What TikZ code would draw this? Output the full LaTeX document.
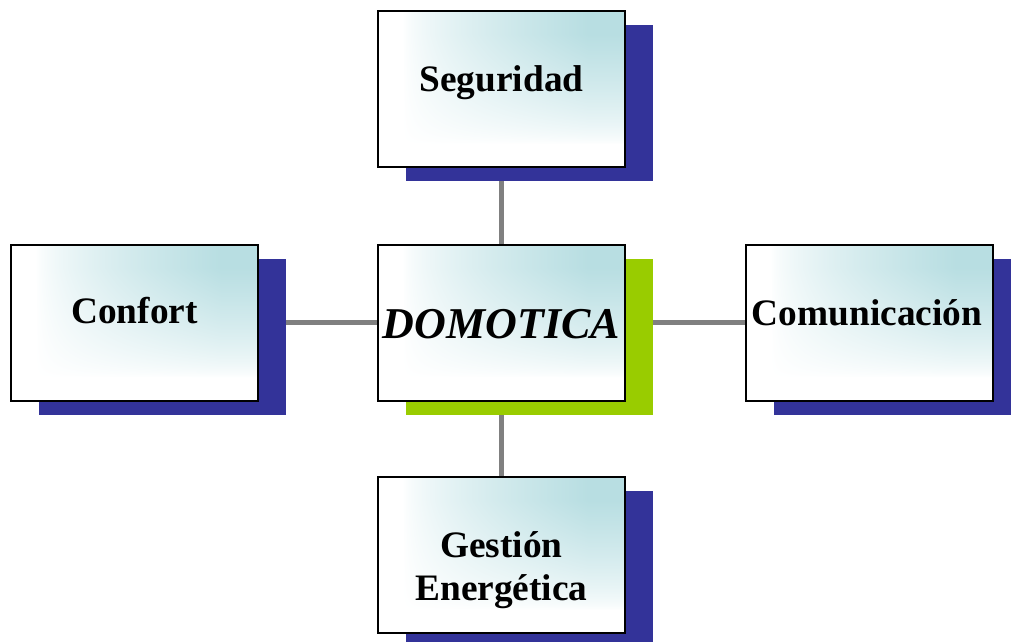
\documentclass[tikz,border=0pt]{standalone}
\usepackage{fontspec}
\setmainfont{Liberation Serif}
\usetikzlibrary{shadows,backgrounds}

\definecolor{navyshadow}{RGB}{51,51,153}
\definecolor{limeshadow}{RGB}{153,204,0}
\definecolor{linkgray}{RGB}{128,128,128}

% white fading to pale teal towards the upper right corner
% (the path is mapped onto the central 25bp--75bp square)
\pgfdeclarefunctionalshading{panelglow}{\pgfpointorigin}{\pgfpoint{100bp}{100bp}}{}{
  25 sub 50 div 0.15 sub 0.7 div
  dup 0 lt {pop 0} if dup 1 gt {pop 1} if
  exch
  25 sub 50 div 0.1 sub 0.75 div
  dup 0 lt {pop 0} if dup 1 gt {pop 1} if
  mul 0.7 exp
  dup dup
  0.278 mul 1 exch sub
  3 1 roll
  0.129 mul 1 exch sub
  exch
  0.114 mul 1 exch sub
}

\tikzset{
  panel/.style={rectangle, draw=black, line width=1.5pt,
    minimum width=185pt, minimum height=117pt, inner sep=0pt,
    shade, shading=panelglow},
  navydrop/.style={general shadow={fill=navyshadow, draw=none,
    shadow xshift=21pt, shadow yshift=-10.5pt}},
  limedrop/.style={general shadow={fill=limeshadow, draw=none,
    shadow xshift=21pt, shadow yshift=-10.5pt}},
  caption/.style={anchor=base, inner sep=0pt, align=center,
    font=\fontsize{28}{32}\selectfont\bfseries},
  hubcaption/.style={anchor=base, inner sep=0pt,
    font=\fontsize{33}{38}\selectfont\bfseries\itshape},
  link/.style={draw=linkgray, line width=3.75pt}
}

\begin{document}
\begin{tikzpicture}[x=0.75pt, y=-0.75pt]
  \useasboundingbox (0,0) rectangle (1011,642);

  % boxes
  \node (seg)  [panel, navydrop] at (501.5, 89)    {};
  \node (conf) [panel, navydrop] at (134.5, 322.5) {};
  \node (dom)  [panel, limedrop] at (501.5, 322.5) {};
  \node (com)  [panel, navydrop] at (869.5, 322.5) {};
  \node (ges)  [panel, navydrop] at (501.5, 555)   {};

  % connectors behind everything
  \begin{scope}[on background layer]
    \draw[link] (seg.center) -- (ges.center);
    \draw[link] (conf.center) -- (com.center);
  \end{scope}

  % captions
  \node (segt)  [caption]    at (501.5, 92)  {Seguridad};
  \node (conft) [caption]    at (134.5, 323) {Confort};
  \node (domt)  [hubcaption] at (501.5, 338) {DOMOTICA};
  \node (comt)  [caption]    at (867, 325)   {Comunicación};
  \node (gest)  [caption]    at (501.5, 557) {Gestión};
  \node (enet)  [caption]    at (501.5, 600) {Energética};
\end{tikzpicture}
\end{document}
